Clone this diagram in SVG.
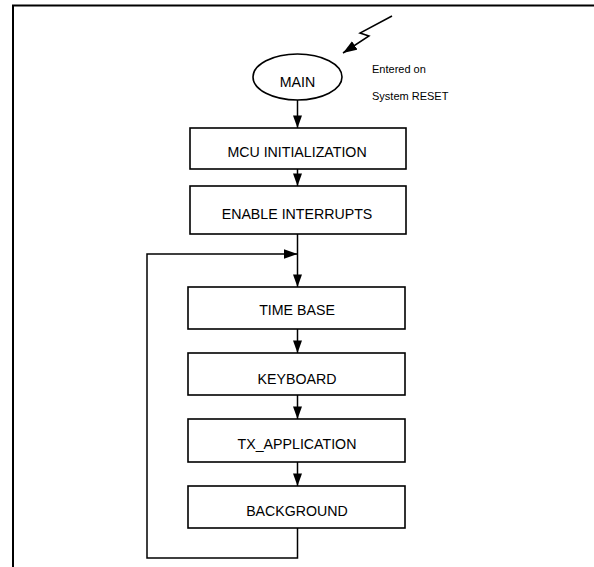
<svg xmlns="http://www.w3.org/2000/svg" width="594" height="567" viewBox="0 0 594 567">
<defs>
<style>
.box{fill:#fff;stroke:#000;stroke-width:1.6}
.lbl{font-family:"Liberation Sans",Arial,sans-serif;font-size:14.2px;fill:#000;text-anchor:middle}
.note{font-family:"Liberation Sans",Arial,sans-serif;font-size:11px;fill:#000}
.conn{fill:none;stroke:#000;stroke-width:1.5}
</style>
<marker id="ah" viewBox="0 0 14 10" refX="14" refY="5" markerWidth="13" markerHeight="9" markerUnits="userSpaceOnUse" orient="auto">
<path d="M0,0 L14,5 L0,10 Z" fill="#000"/>
</marker>
<marker id="ahs" viewBox="0 0 14 10" refX="14" refY="5" markerWidth="14" markerHeight="10" markerUnits="userSpaceOnUse" orient="auto">
<path d="M0,0 L14,5 L0,10 Z" fill="#000"/>
</marker>
</defs>
<rect width="594" height="567" fill="#fff"/>
<path d="M13,567 L13,5.5 L594,5.5" fill="none" stroke="#000" stroke-width="2"/>
<g id="connectors">
<path class="conn" d="M392,16 L360,33 L369,36 L343,53" marker-end="url(#ahs)"/>
<path class="conn" d="M297.5,100 L297.5,128" marker-end="url(#ah)"/>
<path class="conn" d="M297.5,169 L297.5,186" marker-end="url(#ah)"/>
<path class="conn" d="M297.5,234 L297.5,287" marker-end="url(#ah)"/>
<path class="conn" d="M297.5,329 L297.5,353" marker-end="url(#ah)"/>
<path class="conn" d="M297.5,395 L297.5,419" marker-end="url(#ah)"/>
<path class="conn" d="M297.5,462 L297.5,486" marker-end="url(#ah)"/>
<path class="conn" d="M297.5,528 L297.5,558 L147,558 L147,254 L297.5,254" marker-end="url(#ahs)"/>
</g>
<g id="main">
<ellipse cx="297.5" cy="77" rx="44.5" ry="23" fill="#fff" stroke="#000" stroke-width="1.6"/>
<text class="lbl" x="297.5" y="87">MAIN</text>
</g>
<g id="note">
<text class="note" x="372" y="73">Entered on</text>
<text class="note" x="372" y="100">System RESET</text>
</g>
<g id="mcu-init">
<rect class="box" x="190" y="128" width="216" height="41"/>
<text class="lbl" x="297" y="157">MCU INITIALIZATION</text>
</g>
<g id="enable-int">
<rect class="box" x="190" y="186" width="216" height="48"/>
<text class="lbl" x="297" y="219">ENABLE INTERRUPTS</text>
</g>
<g id="time-base">
<rect class="box" x="188" y="287" width="217" height="42"/>
<text class="lbl" x="297" y="315">TIME BASE</text>
</g>
<g id="keyboard">
<rect class="box" x="188" y="353" width="217" height="42"/>
<text class="lbl" x="297" y="384">KEYBOARD</text>
</g>
<g id="tx-app">
<rect class="box" x="188" y="419" width="217" height="43"/>
<text class="lbl" x="297" y="449">TX_APPLICATION</text>
</g>
<g id="background">
<rect class="box" x="188" y="486" width="217" height="42"/>
<text class="lbl" x="297" y="516">BACKGROUND</text>
</g>
</svg>
